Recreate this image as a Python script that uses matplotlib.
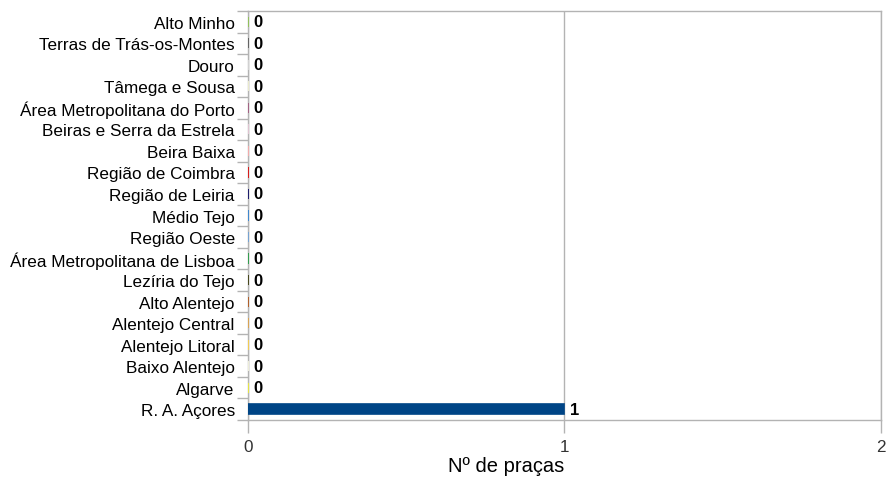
import matplotlib
matplotlib.use("Agg")
import matplotlib.pyplot as plt
from matplotlib.ticker import FixedLocator

categories = ["Alto Minho", "Terras de Trás-os-Montes", "Douro", "Tâmega e Sousa",
              "Área Metropolitana do Porto", "Beiras e Serra da Estrela", "Beira Baixa",
              "Região de Coimbra", "Região de Leiria", "Médio Tejo", "Região Oeste",
              "Área Metropolitana de Lisboa", "Lezíria do Tejo", "Alto Alentejo",
              "Alentejo Central", "Alentejo Litoral", "Baixo Alentejo", "Algarve",
              "R. A. Açores"]
values = [0, 0, 0, 0, 0, 0, 0, 0, 0, 0, 0, 0, 0, 0, 0, 0, 0, 0, 1]
colors = ["#8bc34a", "#555555", "#d8d8d8", "#f5f5d0", "#a0527a", "#e8c8d8", "#ffaaaa",
          "#e00000", "#000060", "#2a7fd4", "#6a9fd8", "#1a9a3a", "#333300", "#b05010",
          "#e0a040", "#ffd040", "#f8f8e0", "#eeee30", "#004586"]
xticks = [0, 1, 2]
xlabel = "Nº de praças"

plt.rcParams['font.family'] = ['Liberation Sans', 'DejaVu Sans']

fig = plt.figure(figsize=(8.87, 4.81), dpi=100)
ax = fig.add_axes([248/887, 1-421/481, (881-248)/887, (421-12)/481])

n = len(categories)
ypos = list(range(n))
ax.barh(ypos, values, height=0.47, color=colors, edgecolor=colors, linewidth=1.2, zorder=3)
for y, v in zip(ypos, values):
    ax.annotate(str(v), (v, y), xytext=(4, 0), textcoords="offset points",
                ha="left", va="center", fontsize=12, fontweight="bold", color="black")

ax.set_ylim(n - 0.5, -0.5)
ax.set_xlim(0, 2)
ax.set_xticks(xticks)
ax.set_xticklabels([str(t) for t in xticks], fontsize=12.3, color="#333333")
ax.set_yticks(ypos)
ax.set_yticklabels(categories, fontsize=12.3, color="black")
ax.yaxis.set_minor_locator(FixedLocator([i - 0.5 for i in range(n + 1)]))
ax.tick_params(axis="y", which="major", length=0, pad=9.5)
ax.tick_params(axis="y", which="minor", length=8, color="#b3b3b3", width=1)
ax.tick_params(axis="x", length=9, color="#b3b3b3", width=1, pad=5)
ax.grid(axis="x", color="#b3b3b3", linewidth=1, zorder=0)
for s in ["left", "top", "bottom", "right"]:
    ax.spines[s].set_color("#b3b3b3")
    ax.spines[s].set_linewidth(1)
ax.spines["right"].set_visible(True)

fig.text(506/887, 1-467/481, xlabel, ha="center", va="center", fontsize=14.5)

fig.savefig("out.png", dpi=100)
